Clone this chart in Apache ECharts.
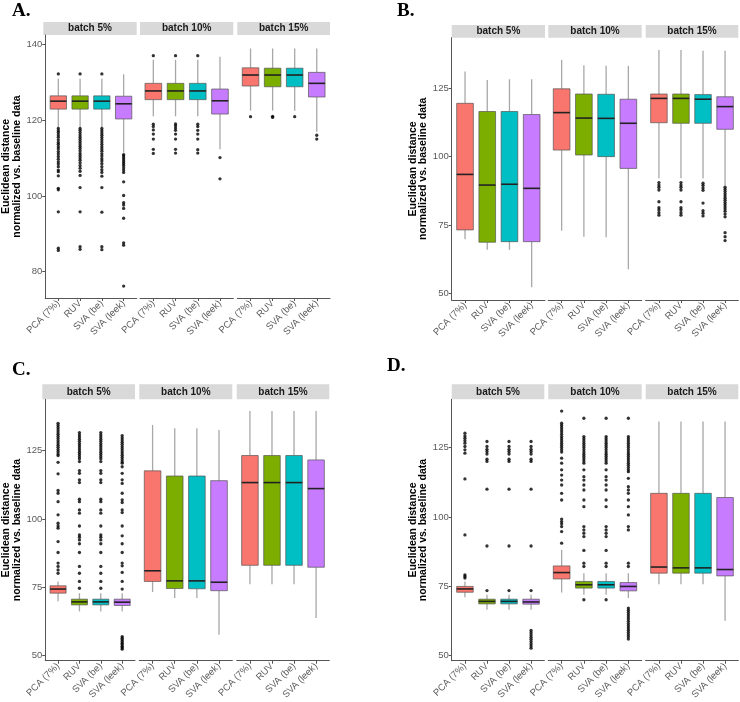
<!DOCTYPE html>
<html><head><meta charset="utf-8">
<script src="https://cdn.jsdelivr.net/npm/echarts@6/dist/echarts.min.js"></script>
<style>html,body{margin:0;padding:0;background:#fff}#c{width:740px;height:702px}</style>
</head><body><div id="c"></div>
<script>
// ---------- categories / labels ----------
const methods = ['PCA (7%)', 'RUV', 'SVA (be)', 'SVA (leek)'];
const batches = ['batch 5%', 'batch 10%', 'batch 15%'];
const panelLetters = ['A.', 'B.', 'C.', 'D.'];
const yTitle = 'Euclidean distance\nnormalized vs. baseline data';
const ticksA = [80, 100, 120, 140];
const ticksBCD = [50, 75, 100, 125];
const colors = ['#F8766D', '#7CAE00', '#00BFC4', '#C77CFF'];

// ---------- box stats: [lower whisker, Q1, median, Q3, upper whisker] per method ----------
// Panel A
const boxA5 = [[118.2,122.9,125.0,126.4,130.9],[118.2,122.9,125.0,126.4,130.9],[118.2,122.9,125.0,126.4,130.9],[111.4,120.3,124.3,126.3,132.1]];
const boxA10 = [[121.0,125.4,127.7,129.7,135.9],[121.0,125.4,127.7,129.7,135.9],[121.0,125.4,127.7,129.7,135.9],[112.3,121.6,125.1,128.2,136.7]];
const boxA15 = [[122.5,129.0,131.9,133.8,138.9],[122.5,128.8,131.9,133.7,138.9],[122.5,128.8,131.9,133.7,138.9],[116.9,126.1,129.7,132.6,138.9]];
// Panel B
const boxB5 = [[69.8,73.2,93.5,119.5,131.1],[65.9,68.7,89.6,116.5,128.0],[65.9,68.9,89.9,116.5,128.3],[52.2,68.9,88.4,115.4,128.3]];
const boxB10 = [[72.9,102.4,116.1,124.8,135.4],[70.7,100.6,114.1,122.9,133.4],[70.5,100.0,114.0,122.8,133.2],[58.8,95.7,112.2,121.0,133.2]];
const boxB15 = [[92.1,112.4,121.3,122.9,139.0],[92.1,112.2,121.3,122.9,139.0],[92.0,112.2,121.0,122.7,138.7],[89.4,110.0,118.3,121.9,138.7]];
// Panel C
const boxC5 = [[69.8,72.8,74.3,75.5,77.1],[66.1,68.5,69.6,70.6,72.8],[66.1,68.5,69.6,70.6,72.8],[66.1,68.3,69.5,70.6,72.8]];
const boxC10 = [[73.2,77.1,81.0,117.6,134.4],[71.0,74.5,77.3,115.7,133.2],[71.0,74.4,77.3,115.7,133.2],[57.6,73.7,76.8,114.0,132.6]];
const boxC15 = [[76.1,83.0,113.3,123.2,139.5],[76.1,83.0,113.3,123.2,139.5],[76.1,83.0,113.3,123.2,139.5],[63.7,82.3,111.1,121.6,139.5]];
// Panel D
const boxD5 = [[71.0,72.8,74.0,74.9,76.7],[66.5,68.6,69.5,70.3,71.9],[66.5,68.6,69.5,70.3,71.9],[66.5,68.5,69.3,70.3,71.9]];
const boxD10 = [[72.7,77.6,79.9,82.3,88.1],[71.9,74.3,75.5,76.7,79.7],[71.9,74.3,75.5,76.7,79.7],[70.7,73.3,74.9,76.3,79.7]];
const boxD15 = [[75.7,79.7,81.9,108.5,134.4],[75.7,79.7,81.6,108.5,134.4],[75.7,79.7,81.6,108.5,134.4],[62.5,78.7,81.0,107.0,134.4]];

// ---------- outliers per method ----------
const outA5 = [
  [132.2,117.8,117.2,116.7,116.1,115.5,114.8,114.1,113.6,113.0,112.4,111.7,111.1,110.4,109.7,109.0,108.4,107.7,106.8,106.4,105.3,102.0,101.6,95.8,86.2,85.6],
  [132.2,117.8,117.3,116.7,116.1,115.5,114.9,114.3,113.7,113.1,112.5,111.9,111.2,110.6,110.0,109.4,108.7,108.0,107.3,106.5,105.4,102.2,95.8,86.6,85.9],
  [132.2,117.8,117.2,116.6,116.0,115.4,114.8,114.2,113.6,113.0,112.4,111.8,111.1,110.5,109.8,109.2,108.5,107.7,106.9,106.2,105.2,102.2,95.7,86.6,85.8],
  [110.9,110.5,110.0,109.5,109.0,108.5,108.0,107.4,106.8,106.2,103.7,100.1,98.2,97.6,96.7,94.1,87.6,87.0,76.2]
];
const outA10 = [
  [137.0,118.9,118.3,117.4,116.3,115.0,112.3,111.2],
  [137.0,119.0,118.5,117.9,117.3,116.3,115.0,112.3,111.3],
  [137.0,118.9,118.3,117.3,116.3,115.0,112.2,111.3],
  [110.1,104.5]
];
const outA15 = [[120.9],[121.0,120.7],[120.9],[116.0,115.0]];
const outB5 = [[],[],[],[]];
const outB10 = [[],[],[],[]];
const outB15 = [
  [90.5,89.6,88.8,87.8,83.5,81.3,80.5,79.5,78.6],
  [90.5,89.6,88.8,87.8,83.5,81.3,80.5,79.5,78.6],
  [90.3,89.5,88.6,87.7,83.0,80.2,79.3,78.3],
  [88.8,88.0,87.2,86.4,85.6,84.8,84.0,83.2,82.4,81.6,80.8,80.0,79.0,78.0,72.2,70.7,69.3]
];
const outC5 = [
  [135.0,134.2,133.4,132.6,131.8,131.0,130.2,129.4,128.6,127.8,127.0,126.2,125.4,124.6,123.8,123.2,120.7,116.5,110.4,109.4,106.3,101.5,98.4,97.4,96.6,91.7,87.7,83.8,82.6,81.3,80.1],
  [131.6,130.8,130.0,129.2,128.4,127.6,126.8,126.0,125.2,124.4,123.6,122.8,122.0,121.0,117.7,116.7,114.3,113.3,107.2,106.3,103.3,102.1,97.4,94.1,93.3,92.3,90.9,87.7,82.6,80.1,77.1,74.6],
  [131.6,130.8,130.0,129.2,128.4,127.6,126.8,126.0,125.2,124.4,123.6,122.8,122.0,121.0,117.7,116.7,114.3,113.3,107.2,106.3,103.3,102.1,97.4,94.1,93.3,92.3,90.9,87.7,82.6,80.1,77.1,74.6],
  [130.5,129.7,128.9,128.1,127.3,126.5,125.7,124.9,124.1,123.3,122.5,121.7,120.9,120.4,119.1,116.7,114.3,113.0,109.4,107.0,106.0,103.3,102.3,97.4,93.8,90.9,87.7,83.8,82.8,80.4,77.1,74.3,56.9,56.3,55.7,55.1,54.5,53.9,53.3,52.8,52.3]
];
const outC10 = [[],[],[],[]];
const outC15 = [[],[],[],[]];
const outD5 = [
  [130.2,129.2,128.4,127.5,126.6,125.4,124.2,123.0,113.7,93.5,79.1,78.5,77.9],
  [127.2,125.4,124.4,123.6,122.7,120.8,120.0,110.0,89.5,73.4],
  [127.2,125.4,124.4,123.6,122.7,120.8,120.0,110.0,89.5,73.4],
  [127.2,125.4,124.4,123.6,122.7,120.8,120.0,110.0,89.5,73.4,59.0,58.2,57.4,56.6,55.8,55.0,54.2,53.4,52.6]
];
const outD10 = [
  [138.2,133.8,133.0,132.2,131.4,130.6,129.8,129.0,128.2,127.4,126.6,125.8,125.0,124.2,123.4,121.2,119.4,117.0,115.1,113.3,111.5,108.5,106.1,99.2,98.3,97.5,96.5,94.7,90.5],
  [135.6,129.0,128.2,127.4,126.6,125.8,125.0,124.2,123.4,122.6,121.8,121.0,120.2,119.4,117.0,114.5,113.3,111.5,109.7,106.1,103.7,96.5,95.3,94.1,92.9,87.9,83.3,82.1,70.1],
  [135.6,129.0,128.2,127.4,126.6,125.8,125.0,124.2,123.4,122.6,121.8,121.0,120.2,119.4,117.0,114.5,113.3,111.5,109.7,106.1,103.7,96.5,95.3,94.1,92.9,87.9,83.3,82.1,70.1],
  [135.6,129.0,128.2,127.4,126.6,125.8,125.0,124.2,123.4,122.6,121.8,121.0,120.2,119.4,118.6,117.8,117.0,116.3,113.9,110.9,109.7,108.5,106.1,103.7,100.7,96.5,95.3,83.3,82.1,67.1,66.3,65.5,64.7,63.9,63.1,62.3,61.5,60.7,59.9,59.1,58.3,57.5,56.7,55.9]
];
const outD15 = [[],[],[],[]];

// ---------- layout (pixels) ----------
const FONT = '"Liberation Sans", Arial, sans-serif';
const panels = [
  {letterX: 12, letterY: 11, top: 35, bottom: 298, stripH: 13,
   facets: [[43.3,136.7],[140,233.3],[237.3,330]], yMin: 73.05, yMax: 142.46, ticks: ticksA,
   box: [boxA5, boxA10, boxA15], out: [outA5, outA10, outA15]},
  {letterX: 397, letterY: 11, top: 37.7, bottom: 300, stripH: 12.7,
   facets: [[451.7,545],[548.3,641.7],[645.7,738.3]], yMin: 47.56, yMax: 143.5, ticks: ticksBCD,
   box: [boxB5, boxB10, boxB15], out: [outB5, outB10, outB15]},
  {letterX: 12, letterY: 370, top: 399.3, bottom: 661, stripH: 15,
   facets: [[42.3,135],[139.3,232.3],[236.7,329.3]], yMin: 48.05, yMax: 143.8, ticks: ticksBCD,
   box: [boxC5, boxC10, boxC15], out: [outC5, outC10, outC15]},
  {letterX: 387, letterY: 366, top: 399.3, bottom: 661, stripH: 15,
   facets: [[451.7,544.3],[548.3,641.7],[645.7,738.3]], yMin: 48.08, yMax: 142.44, ticks: ticksBCD,
   box: [boxD5, boxD10, boxD15], out: [outD5, outD10, outD15]}
];

function renderBox(params, api) {
  const i = api.value(0);
  const lo = api.coord([i, api.value(1)]);
  const q1 = api.coord([i, api.value(2)]);
  const md = api.coord([i, api.value(3)]);
  const q3 = api.coord([i, api.value(4)]);
  const hi = api.coord([i, api.value(5)]);
  const hw = api.size([0.75, 0])[0] / 2;
  const cx = lo[0];
  return {type: 'group', children: [
    {type: 'line', shape: {x1: cx, y1: hi[1], x2: cx, y2: q3[1]}, style: {stroke: '#a8a8a8', lineWidth: 1.3}},
    {type: 'line', shape: {x1: cx, y1: q1[1], x2: cx, y2: lo[1]}, style: {stroke: '#a8a8a8', lineWidth: 1.3}},
    {type: 'rect', shape: {x: cx - hw, y: q3[1], width: 2 * hw, height: q1[1] - q3[1]},
     style: {fill: colors[i], stroke: '#555', lineWidth: 0.7}},
    {type: 'line', shape: {x1: cx - hw, y1: md[1], x2: cx + hw, y2: md[1]}, style: {stroke: '#222', lineWidth: 1.6}}
  ]};
}

const grid = [], xAxis = [], yAxis = [], series = [], graphic = [];
panels.forEach((p, pi) => {
  graphic.push({type: 'text', x: p.letterX, y: p.letterY,
    style: {text: panelLetters[pi], font: 'bold 19px "Liberation Serif", "Times New Roman", serif', fill: '#000',
            textAlign: 'left', textVerticalAlign: 'middle'}});
  p.facets.forEach((f, fi) => {
    const gi = grid.length;
    grid.push({left: f[0], top: p.top, width: f[1] - f[0], height: p.bottom - p.top, containLabel: false});
    xAxis.push({type: 'value', gridIndex: gi, min: -0.6, max: 3.6,
      axisLine: {show: true, onZero: false, lineStyle: {color: '#555', width: 1}},
      axisTick: {show: true, customValues: [0,1,2,3], length: 3, lineStyle: {color: '#555'}},
      axisLabel: {customValues: [0,1,2,3], formatter: v => methods[Math.round(v)], rotate: 45, margin: 4,
                  fontSize: 9.5, color: '#5a5a5a', fontFamily: FONT},
      splitLine: {show: false}});
    const first = fi === 0;
    yAxis.push({type: 'value', gridIndex: gi, min: p.yMin, max: p.yMax,
      axisLine: {show: first, onZero: false, lineStyle: {color: '#555', width: 1}},
      axisTick: {show: first, customValues: p.ticks, length: 3, lineStyle: {color: '#555'}},
      axisLabel: {show: first, customValues: p.ticks, fontSize: 9.5, color: '#5a5a5a', margin: 3, fontFamily: FONT},
      splitLine: {show: false},
      name: first ? yTitle : '', nameLocation: 'middle', nameRotate: 90, nameGap: 21,
      nameTextStyle: {fontWeight: 'bold', fontSize: 10.5, lineHeight: 10.5, color: '#000', fontFamily: FONT}});
    series.push({type: 'custom', xAxisIndex: gi, yAxisIndex: gi, renderItem: renderBox,
      encode: {x: 0, y: [1,2,3,4,5]}, silent: true,
      data: p.box[fi].map((b, i) => [i].concat(b))});
    const pts = [];
    p.out[fi].forEach((arr, i) => arr.forEach(v => pts.push([i, v])));
    series.push({type: 'scatter', xAxisIndex: gi, yAxisIndex: gi, data: pts, symbolSize: 3.3, silent: true,
      itemStyle: {color: '#000'}, z: 3});
    // facet strip
    graphic.push({type: 'rect', shape: {x: f[0], y: p.top - p.stripH, width: f[1] - f[0], height: p.stripH},
      style: {fill: '#d9d9d9'}, silent: true});
    graphic.push({type: 'text', x: (f[0] + f[1]) / 2, y: p.top - p.stripH / 2,
      style: {text: batches[fi], font: 'bold 10px ' + FONT, fill: '#1a1a1a', textAlign: 'center', textVerticalAlign: 'middle'}});
  });
});

const chart = echarts.init(document.getElementById('c'), null, {renderer: 'canvas'});
chart.setOption({animation: false, backgroundColor: '#fff', grid, xAxis, yAxis, series, graphic});
</script></body></html>
